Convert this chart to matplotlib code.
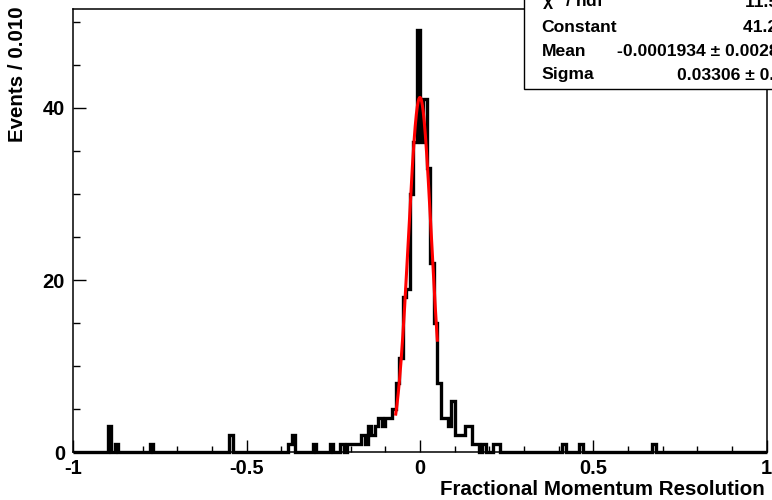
import numpy as np
import matplotlib
matplotlib.use("Agg")
import matplotlib.pyplot as plt
from matplotlib.patches import Rectangle

# ---------------- data ----------------
bin_width = 0.01
x_min, x_max = -1.0, 1.0
# left edges of non-empty bins and their contents
bin_lefts = [-0.90, -0.88, -0.78, -0.55, -0.38, -0.37, -0.31, -0.26, -0.23,
             -0.21, -0.20, -0.19, -0.18, -0.17, -0.16, -0.15, -0.14, -0.13,
             -0.12, -0.11, -0.10, -0.09, -0.08, -0.07, -0.06, -0.05, -0.04,
             -0.03, -0.02, -0.01, 0.00, 0.01, 0.02, 0.03, 0.04, 0.05, 0.06,
             0.07, 0.08, 0.09, 0.10, 0.11, 0.12, 0.13, 0.14, 0.15, 0.16,
             0.18, 0.21, 0.22, 0.41, 0.46, 0.67]
bin_counts = [3, 1, 1, 2, 1, 2, 1, 1, 1,
              1, 1, 1, 1, 2, 1, 3, 2, 3,
              4, 3, 4, 4, 5, 8, 11, 18, 19,
              30, 36, 49, 36, 41, 33, 22, 15, 8, 4,
              4, 3, 6, 2, 2, 2, 3, 3, 1, 1,
              1, 1, 1, 1, 1, 1]

# Gaussian fit result (stat box)
fit_constant = 41.2
fit_mean = -0.0001934
fit_sigma = 0.03306
fit_range = (-0.07, 0.05)

stat_labels = ["\u03c7$^{2}$ / ndf", "Constant", "Mean", "Sigma"]
stat_values = ["11.5 / 9", "41.22 \u00b1 2.43", "-0.0001934 \u00b1 0.002804",
               "0.03306 \u00b1 0.00218"]

x_ticks = [-1, -0.5, 0, 0.5, 1]
x_ticklabels = ["-1", "-0.5", "0", "0.5", "1"]
y_ticks = [0, 20, 40]
y_ticklabels = ["0", "20", "40"]
x_title = "Fractional Momentum Resolution"
y_title = "Events / 0.010"

# ---------------- build histogram ----------------
nbins = int(round((x_max - x_min) / bin_width))
edges = np.linspace(x_min, x_max, nbins + 1)
counts = np.zeros(nbins)
for left, c in zip(bin_lefts, bin_counts):
    idx = int(round((left - x_min) / bin_width))
    counts[idx] = c

# ---------------- figure ----------------
W, H = 772, 500
fig = plt.figure(figsize=(W / 100, H / 100), dpi=100)
FONT = "Liberation Sans"

def fx(px):
    return px / W

def fy(py):
    return 1 - py / H

ax_left, ax_right, ax_top, ax_bottom = 73.3, 766.7, 9.1, 452.3
ax = fig.add_axes([fx(ax_left), fy(ax_bottom), fx(ax_right) - fx(ax_left),
                   fy(ax_top) - fy(ax_bottom)])
ax.set_xlim(x_min, x_max)
ax.set_ylim(0, 51.45)

ax.stairs(counts, edges, color="black", linewidth=2.4, baseline=0,
          clip_on=False, zorder=3)

xf = np.linspace(fit_range[0], fit_range[1], 300)
yf = fit_constant * np.exp(-0.5 * ((xf - fit_mean) / fit_sigma) ** 2)
ax.plot(xf, yf, color="#ff0000", linewidth=2.2, zorder=4)

for s in ax.spines.values():
    s.set_linewidth(1.1)

ax.set_xticks(x_ticks)
ax.set_xticklabels(x_ticklabels)
ax.set_xticks(np.arange(-1, 1.0001, 0.1), minor=True)
ax.set_yticks(y_ticks)
ax.set_yticklabels(y_ticklabels)
ax.set_yticks(np.arange(0, 51, 5), minor=True)
ax.tick_params(axis="x", which="major", direction="in", length=9, width=1,
               pad=5)
ax.tick_params(axis="x", which="minor", direction="in", length=4.5, width=1)
ax.tick_params(axis="y", which="major", direction="in", length=9.5, width=1,
               pad=6)
ax.tick_params(axis="y", which="minor", direction="in", length=5, width=1)
for lab in ax.get_xticklabels() + ax.get_yticklabels():
    lab.set_fontfamily(FONT)
    lab.set_fontweight("bold")
    lab.set_fontsize(14.5)

fig.text(fx(765), fy(495), x_title, ha="right", va="baseline",
         fontfamily=FONT, fontweight="bold", fontsize=14.8)
fig.text(fx(17.5), fy(6), y_title, ha="center", va="top", rotation=90,
         fontfamily=FONT, fontweight="bold", fontsize=14.8)

# ---------------- stat box ----------------
box = Rectangle((fx(524), fy(89.3)), fx(900) - fx(524), fy(-20) - fy(89.3),
                transform=fig.transFigure, facecolor="white",
                edgecolor="black", linewidth=1.0, zorder=10, clip_on=False)
fig.patches.append(box)
row_baselines = [7.4, 31.7, 55.5, 79.5]
value_starts = [745, 743.3, 616.7, 676.7]
for lab, val, yb, xv in zip(stat_labels, stat_values, row_baselines,
                            value_starts):
    fig.text(fx(541.7), fy(yb), lab, ha="left", va="baseline",
             fontfamily=FONT, fontweight="bold", fontsize=12.6, zorder=11)
    fig.text(fx(xv), fy(yb), val, ha="left", va="baseline",
             fontfamily=FONT, fontweight="bold", fontsize=12.6, zorder=11)

fig.savefig("out.png", dpi=100)
